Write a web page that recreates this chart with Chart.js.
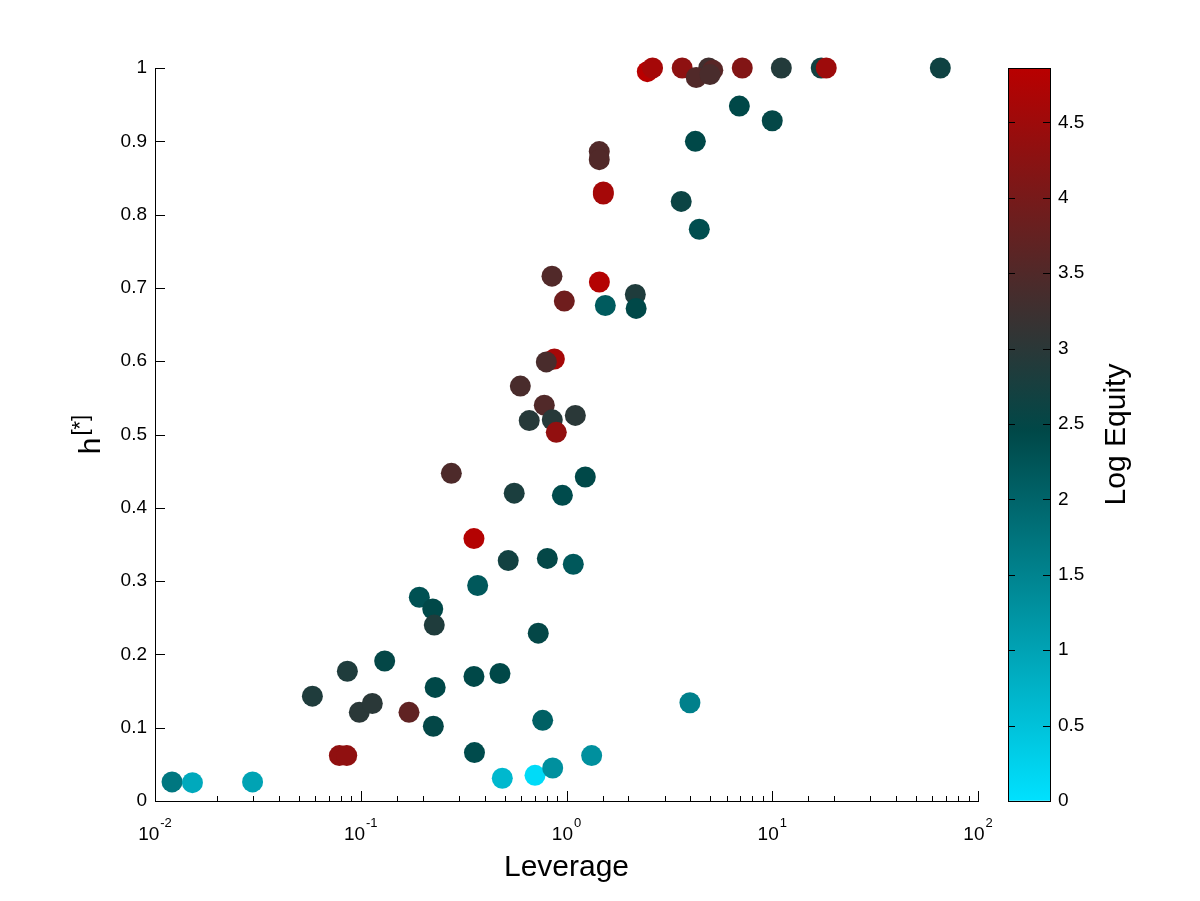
<!DOCTYPE html>
<html>
<head>
<meta charset="utf-8">
<script src="https://cdn.jsdelivr.net/npm/chart.js@4.4.1/dist/chart.umd.min.js"></script>
<style>
  html, body { margin: 0; padding: 0; background: #fff; }
  #wrap { position: relative; width: 1200px; height: 901px; }
  #mainChart { position: absolute; left: 0; top: 0; }
  #barChart { position: absolute; left: 1000px; top: 0; }
</style>
</head>
<body>
<div id="wrap">
  <canvas id="mainChart" width="1200" height="901"></canvas>
  <canvas id="barChart" width="200" height="901"></canvas>
</div>
<script>
// Leverage (x, log axis), h[*] (y) and Log Equity (colour) for each firm
const leverage = [
  0.0121, 0.0152, 0.0298, 0.0582, 0.0861, 0.1307, 0.0984, 0.1138, 0.0787, 0.0855,
  0.1716, 0.1926, 0.2238, 0.2277, 0.230, 0.2253, 0.355, 0.370, 0.355, 0.357,
  0.521, 0.475, 0.4875, 0.703, 0.807, 0.729, 0.766, 0.857, 1.079, 1.325,
  0.850, 1.445, 0.976, 2.16, 1.544, 2.18, 0.873, 0.798, 0.5965, 0.780,
  0.659, 0.853, 1.104, 0.892, 0.2756, 0.557, 1.234, 0.955, 2.47, 2.62,
  3.65, 4.91, 5.14, 4.27, 4.98, 7.15, 11.07, 17.3, 18.3, 65.6,
  6.92, 10.0, 4.23, 1.443, 1.443, 1.51, 1.51, 3.61, 4.42, 3.98
];
const hStar = [
  0.026, 0.025, 0.026, 0.143, 0.177, 0.191, 0.121, 0.133, 0.062, 0.062,
  0.121, 0.278, 0.262, 0.240, 0.155, 0.102, 0.358, 0.294, 0.170, 0.066,
  0.328, 0.174, 0.031, 0.035, 0.331, 0.229, 0.110, 0.045, 0.323, 0.062,
  0.716, 0.708, 0.682, 0.691, 0.676, 0.672, 0.603, 0.599, 0.566, 0.540,
  0.519, 0.520, 0.526, 0.503, 0.447, 0.420, 0.442, 0.417, 0.995, 1.0,
  1.0, 1.0, 0.997, 0.987, 0.991, 1.0, 1.0, 1.0, 1.0, 1.0,
  0.948, 0.928, 0.900, 0.886, 0.875, 0.831, 0.828, 0.818, 0.780, 0.134
];
const logEquity = [
  1.7, 0.9, 1.0, 2.85, 2.85, 2.5, 3.0, 3.0, 4.33, 4.33,
  3.7, 2.3, 2.45, 2.85, 2.45, 2.5, 4.8, 2.19, 2.45, 2.4,
  2.7, 2.45, 0.65, 0.1, 2.5, 2.5, 2.07, 1.3, 2.2, 1.3,
  3.5, 4.8, 3.9, 2.85, 2.15, 2.45, 4.6, 3.4, 3.4, 3.5,
  2.95, 2.95, 3.0, 4.35, 3.45, 2.8, 2.45, 2.4, 4.85, 4.6,
  4.3, 3.3, 3.6, 3.5, 3.4, 4.15, 2.9, 2.7, 4.5, 2.65,
  2.45, 2.5, 2.45, 3.5, 3.5, 4.6, 4.6, 2.6, 2.35, 1.55
];

const xTickExponents = [-2, -1, 0, 1, 2];
const equityRange = [0, 4.86];

// colormap: cyan -> dark teal -> red
const cmapValues = [0, 2.45, 4.86];
const cmapColors = [[0, 225, 255], [0, 72, 72], [185, 0, 0]];

const FONT = '"Liberation Sans", Arial, Helvetica, sans-serif';
Chart.defaults.font.family = FONT;
Chart.defaults.color = '#000';

function rgb(c) {
  return 'rgb(' + c.map(Math.round).join(',') + ')';
}

function equityColor(v) {
  if (v <= cmapValues[0]) return rgb(cmapColors[0]);
  for (let i = 1; i < cmapValues.length; i++) {
    if (v <= cmapValues[i]) {
      const f = (v - cmapValues[i - 1]) / (cmapValues[i] - cmapValues[i - 1]);
      const a = cmapColors[i - 1], b = cmapColors[i];
      return rgb(a.map((ch, k) => ch + (b[k] - ch) * f));
    }
  }
  return rgb(cmapColors[cmapColors.length - 1]);
}

function isDecade(v) {
  const l = Math.log10(v);
  return Math.abs(l - Math.round(l)) < 1e-9;
}

// matlab style labels: 1 not 1.0
function shortLabel(v) {
  return String(Number(v.toFixed(2)));
}

// inner tick marks, superscript tick labels and axis titles
const axisDecor = {
  id: 'axisDecor',
  afterDraw(chart) {
    const { ctx, chartArea: a } = chart;
    const x = chart.scales.x, y = chart.scales.y;
    ctx.save();
    ctx.strokeStyle = '#000';
    ctx.lineWidth = 1;
    ctx.beginPath();
    y.ticks.forEach(t => {
      const py = Math.round(y.getPixelForValue(t.value)) + 0.5;
      ctx.moveTo(a.left, py);
      ctx.lineTo(a.left + 10, py);
    });
    x.ticks.forEach(t => {
      const px = Math.round(x.getPixelForValue(t.value)) + 0.5;
      ctx.moveTo(px, a.bottom);
      ctx.lineTo(px, a.bottom - (isDecade(t.value) ? 10 : 5));
    });
    ctx.stroke();

    ctx.fillStyle = '#000';
    ctx.textBaseline = 'alphabetic';
    ctx.textAlign = 'left';
    xTickExponents.forEach(e => {
      const px = x.getPixelForValue(Math.pow(10, e));
      ctx.font = '19px ' + FONT;
      const wb = ctx.measureText('10').width;
      ctx.font = '13px ' + FONT;
      const we = ctx.measureText(String(e)).width;
      const left = px - (wb + we + 1) / 2;
      ctx.font = '19px ' + FONT;
      ctx.fillText('10', left, a.bottom + 39);
      ctx.font = '13px ' + FONT;
      ctx.fillText(String(e), left + wb + 1, a.bottom + 26);
    });

    ctx.textAlign = 'center';
    ctx.font = '30px ' + FONT;
    ctx.fillText('Leverage', (a.left + a.right) / 2, a.bottom + 75);

    // y title: h^[*]
    ctx.translate(100, (a.top + a.bottom) / 2);
    ctx.rotate(-Math.PI / 2);
    ctx.textAlign = 'left';
    ctx.font = '30px ' + FONT;
    const wh = ctx.measureText('h').width;
    ctx.font = '22px ' + FONT;
    const ws = ctx.measureText('[*]').width;
    const start = -(wh + ws + 2) / 2;
    ctx.font = '30px ' + FONT;
    ctx.fillText('h', start, 0);
    ctx.font = '22px ' + FONT;
    ctx.fillText('[*]', start + wh + 2, -13);
    ctx.restore();
  }
};

new Chart(document.getElementById('mainChart'), {
  type: 'scatter',
  data: {
    datasets: [{
      data: leverage.map((v, i) => ({ x: v, y: hStar[i] })),
      pointRadius: 10.5,
      pointHoverRadius: 10.5,
      pointBorderWidth: 0,
      pointBackgroundColor: logEquity.map(equityColor),
      clip: false
    }]
  },
  options: {
    responsive: false,
    animation: false,
    devicePixelRatio: 1,
    events: [],
    layout: { padding: { top: 68, right: 222, bottom: 0, left: 0 } },
    plugins: { legend: { display: false }, tooltip: { enabled: false } },
    scales: {
      x: {
        type: 'logarithmic',
        min: 0.01,
        max: 100,
        afterFit: s => { s.height = 100; },
        ticks: { display: false },
        grid: { display: true, drawOnChartArea: false, drawTicks: false },
        border: { display: true, color: '#000', width: 1 }
      },
      y: {
        min: 0,
        max: 1,
        afterFit: s => { s.width = 155; },
        ticks: { stepSize: 0.1, padding: 8, color: '#000', font: { size: 19 }, callback: shortLabel },
        grid: { display: true, drawOnChartArea: false, drawTicks: false },
        border: { display: true, color: '#000', width: 1 }
      }
    }
  },
  plugins: [axisDecor]
});

// colour bar
const colorbarDecor = {
  id: 'colorbarDecor',
  afterDraw(chart) {
    const { ctx, chartArea: a } = chart;
    const y = chart.scales.y;
    ctx.save();
    ctx.strokeStyle = '#000';
    ctx.lineWidth = 1;
    ctx.strokeRect(Math.round(a.left) + 0.5, Math.round(a.top) + 0.5,
      Math.round(a.right - a.left), Math.round(a.bottom - a.top));
    ctx.beginPath();
    y.ticks.forEach(t => {
      const py = Math.round(y.getPixelForValue(t.value)) + 0.5;
      ctx.moveTo(a.left, py);
      ctx.lineTo(a.left + 7, py);
      ctx.moveTo(a.right, py);
      ctx.lineTo(a.right - 7, py);
    });
    ctx.stroke();
    ctx.fillStyle = '#000';
    ctx.font = '30px ' + FONT;
    ctx.textAlign = 'center';
    ctx.textBaseline = 'alphabetic';
    ctx.translate(125, (a.top + a.bottom) / 2);
    ctx.rotate(-Math.PI / 2);
    ctx.fillText('Log Equity', 0, 0);
    ctx.restore();
  }
};

new Chart(document.getElementById('barChart'), {
  type: 'bar',
  data: {
    labels: ['Log Equity'],
    datasets: [{
      data: [equityRange[1]],
      borderWidth: 0,
      barPercentage: 1,
      categoryPercentage: 1,
      backgroundColor: c => {
        const ch = c.chart;
        const ys = ch.scales.y;
        if (!ch.chartArea || !ys) return '#000';
        const g = ch.ctx.createLinearGradient(0, ys.getPixelForValue(equityRange[0]), 0, ys.getPixelForValue(equityRange[1]));
        cmapValues.forEach((v, i) => g.addColorStop(v / equityRange[1], rgb(cmapColors[i])));
        return g;
      }
    }]
  },
  options: {
    responsive: false,
    animation: false,
    devicePixelRatio: 1,
    events: [],
    layout: { padding: { top: 68, right: 0, bottom: 100, left: 8 } },
    plugins: { legend: { display: false }, tooltip: { enabled: false } },
    scales: {
      x: { display: false },
      y: {
        position: 'right',
        min: equityRange[0],
        max: equityRange[1],
        afterFit: s => { s.width = 150; },
        ticks: { stepSize: 0.5, includeBounds: false, padding: 8, color: '#000', font: { size: 19 }, callback: shortLabel },
        grid: { display: true, drawOnChartArea: false, drawTicks: false },
        border: { display: false }
      }
    }
  },
  plugins: [colorbarDecor]
});
</script>
</body>
</html>
